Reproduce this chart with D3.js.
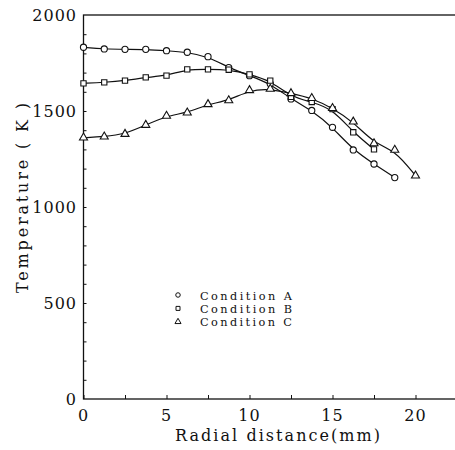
<!DOCTYPE html>
<html>
<head>
<meta charset="utf-8">
<script src="https://cdn.jsdelivr.net/npm/d3@7"></script>
<style>
  body { margin: 0; background: #fff; }
  svg text { font-family: "DejaVu Serif", serif; fill: #111; }
</style>
</head>
<body>
<div id="plot"></div>
<script>
// radial positions (mm), same grid for all three conditions
var radius = [0, 1.25, 2.5, 3.75, 5, 6.25, 7.5, 8.75, 10, 11.25, 12.5, 13.75, 15, 16.25, 17.5, 18.75, 20];
var tempA = [1832, 1823, 1821, 1821, 1814, 1806, 1783, 1726, 1684, 1642, 1563, 1503, 1415, 1297, 1224, 1153];
var tempB = [1644, 1649, 1658, 1675, 1684, 1717, 1717, 1715, 1691, 1658, 1574, 1547, 1510, 1389, 1300];
var tempC = [1361, 1366, 1380, 1427, 1474, 1491, 1535, 1555, 1608, 1615, 1592, 1567, 1515, 1444, 1331, 1297, 1163];
var seriesNames = ["Condition A", "Condition B", "Condition C"];
var xTickLabels = [0, 5, 10, 15, 20];
var yTickLabels = [0, 500, 1000, 1500, 2000];

var width = 455;
var height = 450;

var xScale = d3.scaleLinear().domain([0, 25]).range([83.5, 498.5]);
var yScale = d3.scaleLinear().domain([0, 2000]).range([399, 15]);

var svg = d3.select("#plot").append("svg")
    .attr("width", width)
    .attr("height", height);

// frame (right side falls outside the picture)
svg.append("rect")
    .attr("x", xScale(0)).attr("y", yScale(2000))
    .attr("width", xScale(25) - xScale(0))
    .attr("height", yScale(0) - yScale(2000))
    .attr("fill", "none").attr("stroke", "#111").attr("stroke-width", 1.3);

// x axis, ticks pointing inward
var xAxis = d3.axisTop(xScale)
    .tickValues(d3.range(0, 25.1, 2.5))
    .tickSize(4)
    .tickFormat("");
svg.append("g")
    .attr("transform", "translate(0," + yScale(0) + ")")
    .call(xAxis)
    .call(function(g){ g.select(".domain").remove(); })
    .selectAll("line").attr("stroke", "#111");

svg.selectAll(".xlab")
    .data(xTickLabels).enter().append("text")
    .attr("class", "xlab")
    .attr("x", function(d){ return xScale(d); })
    .attr("y", 421)
    .attr("text-anchor", "middle")
    .style("font-size", "16px")
    .style("letter-spacing", "1px")
    .text(function(d){ return d; });

// y axis, minor ticks every 100 pointing inward
var yMinor = d3.axisRight(yScale)
    .tickValues(d3.range(100, 2000, 100))
    .tickSize(3)
    .tickFormat("");
svg.append("g")
    .attr("transform", "translate(" + xScale(0) + ",0)")
    .call(yMinor)
    .call(function(g){ g.select(".domain").remove(); })
    .selectAll("line").attr("stroke", "#111");

svg.selectAll(".ylab")
    .data(yTickLabels).enter().append("text")
    .attr("class", "ylab")
    .attr("x", 77)
    .attr("y", function(d){ return yScale(d) + 6; })
    .attr("text-anchor", "end")
    .style("font-size", "16px")
    .style("letter-spacing", "1px")
    .text(function(d){ return d; });

svg.append("text")
    .attr("x", 277.5).attr("y", 441)
    .attr("text-anchor", "middle")
    .attr("textLength", 205)
    .attr("lengthAdjust", "spacing")
    .style("font-size", "16px")
    .text("Radial distance(mm)");

svg.append("text")
    .attr("transform", "translate(28,198) rotate(-90)")
    .attr("text-anchor", "middle")
    .attr("textLength", 190)
    .attr("lengthAdjust", "spacing")
    .style("font-size", "16px")
    .attr("xml:space", "preserve")
    .text("Temperature ( K )");

// series
var series = [tempA, tempB, tempC].map(function(vals, i){
    return {
        name: seriesNames[i],
        pts: vals.map(function(t, j){ return {r: radius[j], t: t}; })
    };
});

var line = d3.line()
    .x(function(d){ return xScale(d.r); })
    .y(function(d){ return yScale(d.t); })
    .curve(d3.curveBasis);

svg.selectAll(".curve")
    .data(series).enter().append("path")
    .attr("class", "curve")
    .attr("d", function(d){ return line(d.pts); })
    .attr("fill", "none")
    .attr("stroke", "#111")
    .attr("stroke-width", 1.2);

var shapes = [d3.symbolCircle, d3.symbolSquare, d3.symbolTriangle];
var sizes = [30, 28, 28];

series.forEach(function(s, i){
    svg.selectAll(".m" + i)
        .data(s.pts).enter().append("path")
        .attr("class", "m" + i)
        .attr("transform", function(d){ return "translate(" + xScale(d.r) + "," + yScale(d.t) + ")"; })
        .attr("d", d3.symbol().type(shapes[i]).size(sizes[i]))
        .attr("fill", "#fff")
        .attr("stroke", "#111")
        .attr("stroke-width", 1.1);
});

// legend
var legend = svg.selectAll(".leg")
    .data(seriesNames).enter().append("g")
    .attr("class", "leg")
    .attr("transform", function(d, i){ return "translate(178," + (295 + i * 13.4) + ")"; });

legend.append("path")
    .attr("d", function(d, i){ return d3.symbol().type(shapes[i]).size(16)(); })
    .attr("fill", "#fff")
    .attr("stroke", "#111")
    .attr("stroke-width", 1);

legend.append("text")
    .attr("x", 22)
    .attr("y", 4.5)
    .attr("textLength", 92)
    .attr("lengthAdjust", "spacing")
    .style("font-size", "11.3px")
    .attr("xml:space", "preserve")
    .text(function(d){ return d; });
</script>
</body>
</html>
